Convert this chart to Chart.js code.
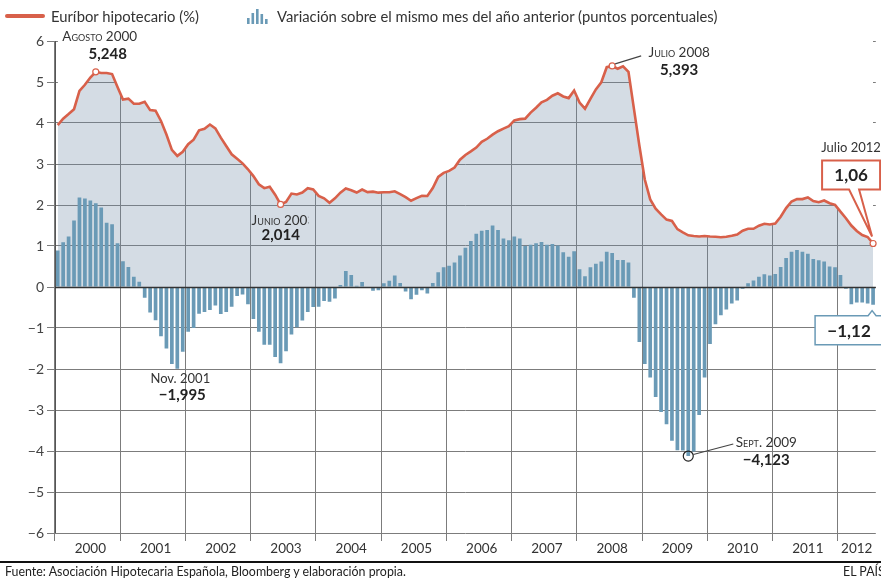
<!DOCTYPE html>
<html lang="es">
<head>
<meta charset="utf-8">
<title>Euríbor hipotecario</title>
<script src="https://cdn.jsdelivr.net/npm/chart.js@4.4.1/dist/chart.umd.min.js"></script>
<style>
  html, body { margin: 0; padding: 0; background: #fff; }
  body { width: 881px; height: 578px; overflow: hidden; position: relative; font-family: Lato, "Noto Sans", sans-serif; color: #333; }
  #wrap { position: absolute; left: 0; top: 0; width: 881px; height: 578px; }
  .legend { position: absolute; top: 7px; left: 0; height: 20px; font-size: 14.8px; white-space: nowrap; }
  .legend .item { position: absolute; top: 0; line-height: 18px; }
  .legend .redline { position: absolute; left: 5px; top: 7px; width: 40px; height: 4px; border-radius: 2px; background: #d8604a; }
  .rule { position: absolute; left: 0; top: 561px; width: 881px; height: 2px; background: #111; }
  .src { position: absolute; left: 5px; top: 564px; font-size: 12.4px; color: #222; white-space: nowrap; }
  .brand { position: absolute; left: 843px; top: 564px; font-size: 12.4px; color: #222; white-space: nowrap; }
</style>
</head>
<body>
<div id="wrap"><canvas id="chart"></canvas></div>

<div class="legend">
  <span class="redline"></span>
  <span class="item" style="left:51px">Euríbor hipotecario (%)</span>
  <svg style="position:absolute;left:247px;top:2px" width="22" height="15" viewBox="0 0 22 15">
    <rect x="0" y="9" width="2.6" height="6" fill="#6a9ab6"/>
    <rect x="4.5" y="4" width="2.6" height="11" fill="#6a9ab6"/>
    <rect x="9" y="0" width="2.6" height="15" fill="#6a9ab6"/>
    <rect x="13.5" y="5" width="2.6" height="10" fill="#6a9ab6"/>
    <rect x="18" y="10" width="2.6" height="5" fill="#6a9ab6"/>
  </svg>
  <span class="item" style="left:277px">Variación sobre el mismo mes del año anterior (puntos porcentuales)</span>
</div>

<div class="rule"></div>
<div class="src">Fuente: Asociación Hipotecaria Española, Bloomberg y elaboración propia.</div>
<div class="brand">EL PAÍS</div>

<script>
// years shown on the axis and month names for the categories
const years = ['2000', '2001', '2002', '2003', '2004', '2005', '2006', '2007', '2008', '2009', '2010', '2011', '2012'];
const monthNames = ['Ene', 'Feb', 'Mar', 'Abr', 'May', 'Jun', 'Jul', 'Ago', 'Sep', 'Oct', 'Nov', 'Dic'];
const lastMonths2012 = 7; // data ends in July 2012

// Euríbor hipotecario, monthly (%)
const euribor = [
  3.949, 4.106, 4.218, 4.337, 4.783, 4.933, 5.108, 5.248, 5.219, 5.221, 5.193, 4.876,
  4.574, 4.595, 4.468, 4.469, 4.519, 4.315, 4.301, 4.050, 3.719, 3.345, 3.198, 3.296,
  3.484, 3.594, 3.822, 3.861, 3.963, 3.869, 3.642, 3.438, 3.237, 3.126, 3.016, 2.872,
  2.705, 2.504, 2.411, 2.447, 2.252, 2.014, 2.076, 2.279, 2.258, 2.303, 2.410, 2.381,
  2.223, 2.163, 2.054, 2.163, 2.302, 2.402, 2.361, 2.304, 2.377, 2.315, 2.325, 2.301,
  2.312, 2.310, 2.335, 2.265, 2.193, 2.103, 2.168, 2.223, 2.220, 2.414, 2.684, 2.783,
  2.833, 2.914, 3.105, 3.221, 3.308, 3.401, 3.539, 3.615, 3.715, 3.799, 3.864, 3.921,
  4.064, 4.094, 4.106, 4.253, 4.373, 4.505, 4.564, 4.666, 4.725, 4.647, 4.607, 4.793,
  4.498, 4.349, 4.590, 4.820, 4.994, 5.361, 5.393, 5.323, 5.384, 5.248, 4.350, 3.452,
  2.622, 2.135, 1.909, 1.771, 1.644, 1.610, 1.412, 1.334, 1.261, 1.243, 1.231, 1.242,
  1.232, 1.225, 1.215, 1.225, 1.249, 1.281, 1.373, 1.421, 1.420, 1.495, 1.541, 1.526,
  1.550, 1.714, 1.924, 2.086, 2.147, 2.144, 2.183, 2.097, 2.067, 2.110, 2.044, 2.004,
  1.837, 1.678, 1.499, 1.368, 1.266, 1.219, 1.061
];

// change vs. same month of previous year (percentage points)
const variacion = [
  0.89, 1.09, 1.23, 1.62, 2.18, 2.16, 2.11, 2.04, 1.94, 1.57, 1.53, 1.07,
  0.63, 0.49, 0.25, 0.13, -0.26, -0.62, -0.81, -1.20, -1.50, -1.88, -1.995, -1.58,
  -1.09, -1.00, -0.65, -0.61, -0.56, -0.45, -0.66, -0.61, -0.48, -0.22, -0.18, -0.42,
  -0.78, -1.09, -1.41, -1.41, -1.71, -1.86, -1.57, -1.16, -0.98, -0.82, -0.61, -0.49,
  -0.48, -0.34, -0.36, -0.28, 0.05, 0.39, 0.29, 0.03, 0.12, 0.01, -0.09, -0.08,
  0.09, 0.15, 0.28, 0.10, -0.11, -0.30, -0.19, -0.08, -0.16, 0.10, 0.36, 0.48,
  0.52, 0.60, 0.77, 0.96, 1.12, 1.30, 1.37, 1.39, 1.50, 1.39, 1.18, 1.14,
  1.23, 1.18, 1.00, 1.03, 1.07, 1.10, 1.03, 1.05, 1.01, 0.85, 0.74, 0.87,
  0.43, 0.26, 0.48, 0.57, 0.62, 0.86, 0.83, 0.66, 0.66, 0.60, -0.26, -1.34,
  -1.88, -2.21, -2.68, -3.05, -3.35, -3.75, -3.98, -3.99, -4.123, -4.01, -3.12, -2.21,
  -1.39, -0.91, -0.69, -0.55, -0.40, -0.33, -0.04, 0.09, 0.16, 0.25, 0.31, 0.28,
  0.32, 0.49, 0.71, 0.86, 0.90, 0.86, 0.81, 0.68, 0.65, 0.62, 0.50, 0.48,
  0.29, -0.04, -0.42, -0.38, -0.38, -0.40, -0.43
];

// months with an open marker on the line
const markedMonths = [7, 41, 102, 150];

const labels = [];
years.forEach((yr, yi) => {
  const n = yi === years.length - 1 ? lastMonths2012 : 12;
  for (let m = 0; m < n; m++) labels.push(monthNames[m] + ' ' + yr);
});

const RED = '#d8604a';
const BLUE = '#6a9ab6';
const GRID = '#7c7c7c';
const FONT = 'Lato, "Noto Sans", sans-serif';

function minus(s) {
  return s.replace('-', '\u2212');
}

// text + callouts, anchored on the data points through the scales
const annotations = {
  id: 'annotations',
  afterDatasetsDraw(chart) {
    const { ctx, chartArea, scales: { y } } = chart;
    ctx.save();
    // left axis line
    ctx.strokeStyle = '#555';
    ctx.lineWidth = 1;
    ctx.beginPath();
    ctx.moveTo(chartArea.left + 0.5, chartArea.top);
    ctx.lineTo(chartArea.left + 0.5, chartArea.bottom);
    ctx.stroke();
    // zero line on top of the bars
    const y0 = Math.round(y.getPixelForValue(0)) + 0.5;
    ctx.strokeStyle = '#333';
    ctx.lineWidth = 1.6;
    ctx.beginPath();
    ctx.moveTo(chartArea.left, y0);
    ctx.lineTo(chartArea.right, y0);
    ctx.stroke();
    ctx.restore();
  },
  afterDraw(chart) {
    const { ctx, scales: { x, y } } = chart;
    const px = i => x.getPixelForValue(i);
    const py = v => y.getPixelForValue(v);

    function text(str, tx, ty, font, align, color) {
      ctx.font = font;
      ctx.textAlign = align || 'center';
      ctx.textBaseline = 'middle';
      ctx.fillStyle = color || '#333';
      ctx.fillText(str, tx, ty);
    }
    const small = 'small-caps 13.5px ' + FONT;
    const reg = '13px ' + FONT;
    const bold = 'bold 15px ' + FONT;

    ctx.save();

    // Agosto 2000
    let ax = px(7), ay = py(euribor[7]);
    text('Agosto 2000', ax + 4, ay - 35, small);
    text('5,248', ax + 12, ay - 18, bold, 'center', '#222');

    // Junio 2003 (last digit hidden, as in the original)
    ax = px(41); ay = py(euribor[41]);
    ctx.font = small;
    const cut = ax - 29 + ctx.measureText('Junio 200').width + 1;
    ctx.save();
    ctx.beginPath();
    ctx.rect(0, 0, cut, 578);
    ctx.clip();
    text('Junio 2003', ax - 29, ay + 16, small, 'left');
    text('2,014', ax - 19, ay + 31, bold, 'left', '#222');
    ctx.restore();

    // Nov. 2001
    ax = px(22); ay = py(variacion[22]);
    text('Nov. 2001', ax + 3, ay + 10, reg);
    text(minus('-1,995'), ax + 5, ay + 26, bold, 'center', '#222');

    // Julio 2008
    ax = px(102); ay = py(euribor[102]);
    ctx.strokeStyle = '#444';
    ctx.lineWidth = 1.2;
    ctx.beginPath();
    ctx.moveTo(ax + 3, ay - 2);
    ctx.lineTo(ax + 29, ay - 10);
    ctx.stroke();
    text('Julio 2008', ax + 67, ay - 13, small);
    text('5,393', ax + 67, ay + 4, bold, 'center', '#222');

    // Sept. 2009
    ax = px(116); ay = py(variacion[116]);
    ctx.strokeStyle = '#222';
    ctx.lineWidth = 1.2;
    ctx.beginPath();
    ctx.arc(ax, ay, 5, 0, Math.PI * 2);
    ctx.stroke();
    ctx.strokeStyle = '#444';
    ctx.beginPath();
    ctx.moveTo(ax + 5, ay - 1.5);
    ctx.lineTo(ax + 45, ay - 12);
    ctx.stroke();
    text('Sept. 2009', ax + 78, ay - 13, small);
    text(minus('-4,123'), ax + 78, ay + 4, bold, 'center', '#222');

    // Julio 2012 box
    ax = px(150); ay = py(euribor[150]);
    text('Julio 2012', ax - 22, ay - 96, reg);
    const bx = ax - 51, by = ay - 83, bw = 58, bh = 29;
    ctx.fillStyle = '#fff';
    ctx.strokeStyle = RED;
    ctx.lineWidth = 2;
    ctx.beginPath();
    ctx.moveTo(bx, by);
    ctx.lineTo(bx + bw, by);
    ctx.lineTo(bx + bw, by + bh);
    ctx.lineTo(ax - 14, by + bh);
    ctx.lineTo(ax - 1, ay - 7);
    ctx.lineTo(ax - 24, by + bh);
    ctx.lineTo(bx, by + bh);
    ctx.closePath();
    ctx.fill();
    ctx.stroke();
    text('1,06', ax - 22, by + bh / 2 + 1, 'bold 17px ' + FONT, 'center', '#222');

    // -1,12 box
    ax = px(150); ay = py(variacion[150]);
    const cx = ax - 58, cy = ay + 11, cw = 70, ch = 29;
    ctx.fillStyle = '#fff';
    ctx.strokeStyle = BLUE;
    ctx.lineWidth = 1.5;
    ctx.beginPath();
    ctx.moveTo(cx, cy);
    ctx.lineTo(ax - 5, cy);
    ctx.lineTo(ax - 1, cy - 5);
    ctx.lineTo(ax + 3, cy);
    ctx.lineTo(cx + cw, cy);
    ctx.lineTo(cx + cw, cy + ch);
    ctx.lineTo(cx, cy + ch);
    ctx.closePath();
    ctx.fill();
    ctx.stroke();
    text(minus('-1,12'), ax - 24, cy + ch / 2 + 1, 'bold 17px ' + FONT, 'center', '#222');

    ctx.restore();
  }
};

new Chart(document.getElementById('chart'), {
  type: 'bar',
  data: {
    labels: labels,
    datasets: [
      {
        type: 'line',
        label: 'Euríbor hipotecario (%)',
        data: euribor,
        borderColor: RED,
        borderWidth: 2.6,
        tension: 0,
        fill: false,
        pointRadius: ctx => markedMonths.includes(ctx.dataIndex) ? 3 : 0,
        pointBackgroundColor: '#fff',
        pointBorderColor: RED,
        pointBorderWidth: 1.2,
        order: 0
      },
      {
        type: 'bar',
        label: 'Variación',
        data: variacion,
        backgroundColor: BLUE,
        barPercentage: 0.68,
        categoryPercentage: 1,
        order: 1
      },
      {
        type: 'line',
        label: 'area',
        data: euribor,
        borderWidth: 0,
        borderColor: 'rgba(0,0,0,0)',
        pointRadius: 0,
        tension: 0,
        fill: 'origin',
        backgroundColor: 'rgba(112,140,165,0.3)',
        order: 2
      },
      {
        type: 'line',
        label: 'cover',
        data: euribor,
        borderWidth: 0,
        borderColor: 'rgba(0,0,0,0)',
        pointRadius: 0,
        tension: 0,
        fill: 'end',
        backgroundColor: '#fff',
        order: 3
      }
    ]
  },
  options: {
    responsive: true,
    maintainAspectRatio: false,
    animation: false,
    events: [],
    layout: { padding: { top: 41, right: 5, bottom: 0, left: 0 } },
    plugins: {
      legend: { display: false },
      tooltip: { enabled: false }
    },
    scales: {
      x: {
        type: 'category',
        offset: true,
        afterFit: scale => { scale.height = 45; },
        grid: {
          offset: true,
          color: ctx => ctx.index % 12 === 0 ? GRID : 'rgba(0,0,0,0)',
          lineWidth: 1,
          tickLength: 8
        },
        border: { display: false },
        ticks: {
          autoSkip: false,
          maxRotation: 0,
          minRotation: 0,
          padding: 0,
          color: '#333',
          font: { family: FONT, size: 13.5 },
          callback: (val, i) => {
            if (i < 144 && i % 12 === 6) return years[Math.floor(i / 12)];
            if (i === 147) return years[12];
            return '';
          }
        }
      },
      y: {
        min: -6,
        max: 6,
        afterFit: scale => { scale.width = 55; },
        grid: {
          color: GRID,
          lineWidth: 1,
          tickLength: 8
        },
        border: { display: false },
        ticks: {
          stepSize: 1,
          padding: 3,
          color: '#444',
          font: { family: FONT, size: 14 },
          callback: v => minus(String(v))
        }
      }
    }
  },
  plugins: [annotations]
});
</script>
</body>
</html>
